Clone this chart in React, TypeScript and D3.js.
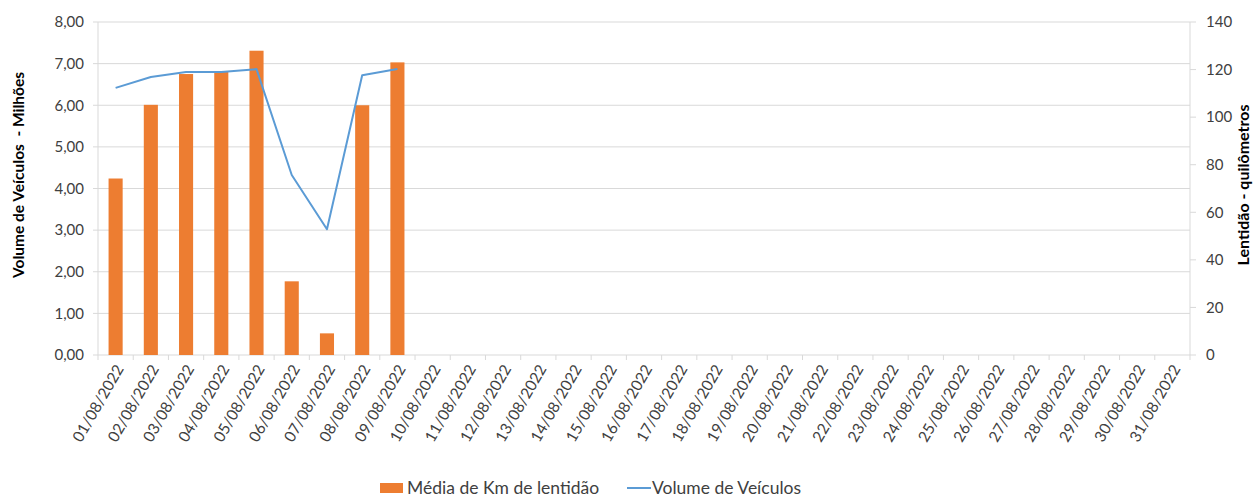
import React from 'react';
import * as d3 from 'd3';

// dias de agosto/2022
const days = d3.range(1, 32).map((d) => String(d).padStart(2, '0') + '/08/2022');

// barras (eixo esquerdo)
const kmLentidao = [4.24, 6.01, 6.75, 6.8, 7.31, 1.77, 0.52, 6.0, 7.03];
// linha (eixo direito)
const volumeVeiculos = [112.3, 116.9, 119.0, 119.0, 120.2, 75.7, 52.9, 117.6, 120.2];

const leftTicks = [0, 1, 2, 3, 4, 5, 6, 7, 8];
const rightTicks = [0, 20, 40, 60, 80, 100, 120, 140];

const W = 1255;
const H = 498;
const margin = { top: 22, right: 65, bottom: 143, left: 98 };
const FONT = 'Lato, "Open Sans", sans-serif';
const TXT = '#404040';
const GRID = '#d9d9d9';

export default function App() {
  const x0 = margin.left;
  const x1 = W - margin.right;
  const y0 = H - margin.bottom;
  const y1 = margin.top;

  const x = d3.scaleBand().domain(days).range([x0, x1]).paddingInner(0).paddingOuter(0);
  const yL = d3.scaleLinear().domain([0, 8]).range([y0, y1]);
  const yR = d3.scaleLinear().domain([0, 140]).range([y0, y1]);
  const fmt = (v: number) => v.toFixed(2).replace('.', ',');

  const barW = x.bandwidth() * 0.4;
  const line = d3
    .line<number>()
    .x((_, i) => (x(days[i]) as number) + x.bandwidth() / 2)
    .y((d) => yR(d));

  return (
    <svg width={W} height={H} style={{ position: 'absolute', left: 0, top: 0 }} fontFamily={FONT}>
      {/* grid */}
      {leftTicks.map((t) => (
        <line key={'g' + t} x1={x0} x2={x1} y1={yL(t)} y2={yL(t)} stroke={GRID} strokeWidth={1} />
      ))}
      {/* left axis */}
      <line x1={x0} x2={x0} y1={y1} y2={y0} stroke={GRID} />
      {leftTicks.map((t) => (
        <g key={'l' + t}>
          <line x1={x0 - 5} x2={x0} y1={yL(t)} y2={yL(t)} stroke={GRID} />
          <text x={x0 - 14} y={yL(t)} dy="0.35em" textAnchor="end" fontSize={15} fill={TXT}>
            {fmt(t)}
          </text>
        </g>
      ))}
      {/* right axis */}
      <line x1={x1} x2={x1} y1={y1} y2={y0} stroke={GRID} />
      {rightTicks.map((t) => (
        <g key={'r' + t}>
          <line x1={x1} x2={x1 + 6} y1={yR(t)} y2={yR(t)} stroke={GRID} />
          <text x={x1 + 16} y={yR(t)} dy="0.35em" textAnchor="start" fontSize={15} fill={TXT}>
            {t}
          </text>
        </g>
      ))}
      {/* x axis ticks */}
      {days.concat(['end']).map((d, i) => {
        const xx = x0 + i * x.bandwidth();
        return <line key={'xt' + i} x1={xx} x2={xx} y1={y0} y2={y0 + 5} stroke={GRID} />;
      })}
      {days.map((d) => {
        const cx = (x(d) as number) + x.bandwidth() / 2;
        return (
          <text
            key={'xl' + d}
            transform={`translate(${cx + 4},${y0 + 11}) rotate(-60)`}
            textAnchor="end"
            dy="0.35em"
            fontSize={15.5}
            fill={TXT}
          >
            {d}
          </text>
        );
      })}
      {/* bars */}
      {kmLentidao.map((v, i) => {
        const cx = (x(days[i]) as number) + x.bandwidth() / 2;
        return (
          <rect key={'b' + i} x={cx - barW / 2} y={yL(v)} width={barW} height={y0 - yL(v)} fill="#ED7D31" />
        );
      })}
      {/* line */}
      <path d={line(volumeVeiculos) as string} fill="none" stroke="#5B9BD5" strokeWidth={2} strokeLinejoin="round" />
      {/* axis titles */}
      <text
        transform={`translate(19,175) rotate(-90)`}
        textAnchor="middle"
        dy="0.35em"
        fontSize={15.5}
        fontWeight="bold"
        fill="#000"
        xmlSpace="preserve"
      >
        Volume de Veículos  - Milhões
      </text>
      <text
        transform={`translate(1243,185) rotate(-90)`}
        textAnchor="middle"
        dy="0.35em"
        fontSize={16}
        fontWeight="bold"
        fill="#000"
      >
        Lentidão - quilômetros
      </text>
      {/* legend */}
      <rect x={380} y={483} width={23} height={10} fill="#ED7D31" />
      <text x={407} y={488} dy="0.35em" fontSize={17.5} fill={TXT}>
        Média de Km de lentidão
      </text>
      <line x1={627} x2={651} y1={488} y2={488} stroke="#5B9BD5" strokeWidth={2} />
      <text x={652} y={488} dy="0.35em" fontSize={17.5} fill={TXT}>
        Volume de Veículos
      </text>
    </svg>
  );
}
